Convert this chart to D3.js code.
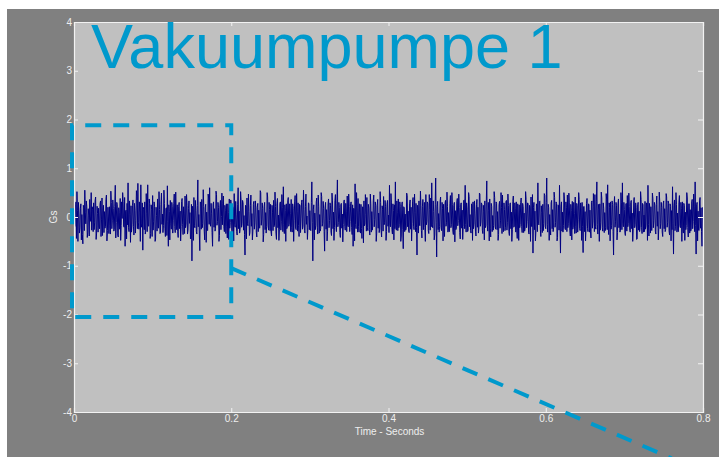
<!DOCTYPE html>
<html>
<head>
<meta charset="utf-8">
<script src="https://cdn.jsdelivr.net/npm/d3@7"></script>
<style>
  html, body { margin: 0; padding: 0; background: #ffffff; }
  svg { display: block; }
  text { font-family: "Liberation Sans", Arial, sans-serif; }
</style>
</head>
<body>
<svg id="chart" width="719" height="457"></svg>
<script>
// Vibration record of vacuum pump 1 (acceleration in Gs), sampled every 0.625 ms
const titleText = "Vakuumpumpe 1";
const xLabel = "Time - Seconds";
const yLabel = "Gs";
const timeStep = 0.000625;
const xTicks = [0, 0.2, 0.4, 0.6, 0.8];
const yTicks = [-4, -3, -2, -1, 0, 1, 2, 3, 4];
const xDomain = [0, 0.8];
const yDomain = [-4, 4];

const gsValues = [
  .12,-.21,-.18,.25,.31,-.44,.52,.14,-.50,.30,.08,-.33,-.22,.18,.27,-.47,.05,-.36,-.55,.24,.19,-.28,.55,.10,-.14,.33,.22,-.42,-.31,.17,.04,-.39,.36,.02,-.09,.50,-.27,.21,.15,-.30,
  .29,-.26,-.12,.34,.41,-.46,-.33,.22,.07,-.31,.18,-.20,-.24,.27,.33,-.40,-.06,.39,-.38,.13,.24,-.32,.11,-.23,-.19,.36,.45,-.49,-.28,.20,.02,-.34,.21,-.18,-.35,.53,.30,-.24,-.08,.35,
  .17,-.29,-.26,.22,.65,-.43,-.11,.30,.26,-.37,-.41,.19,.09,-.25,.38,-.48,-.17,.31,-.03,.50,.32,-.19,-.21,.40,-.60,.12,.14,-.45,.28,-.16,.70,-.22,-.30,.33,.05,-.52,.23,-.31,-.16,.24,
  .35,-.20,-.37,.28,.13,-.33,-.07,.54,.42,-.24,.69,-.12,-.25,.31,.10,-.50,.66,-.21,-.14,.29,-.68,.15,.20,-.26,.31,-.35,-.29,.48,.08,-.30,.66,-.18,-.19,.37,.27,-.44,-.34,.25,.16,-.40,
  .44,-.27,-.10,.31,.22,-.50,-.45,.20,.03,-.29,.37,-.21,-.23,.52,.15,-.34,-.31,.26,.49,-.15,.06,-.32,-.18,.55,.28,-.23,-.40,.17,.19,-.38,.64,-.09,-.60,.25,.11,-.47,.34,-.14,-.25,.30,
  .21,-.33,-.08,.27,.47,-.19,-.32,.51,.02,-.26,.25,-.30,-.42,.22,.30,-.24,.12,-.49,-.20,.32,.38,-.16,-.36,.21,.07,-.34,.43,-.22,-.15,.46,.24,-.35,-.27,.18,.33,-.13,.09,-.45,-.44,.26,
  -.90,.22,.18,-.48,.40,-.18,-.22,.34,.13,-.30,-.35,.24,.76,-.20,.05,-.33,-.69,.31,.29,-.25,.36,-.22,-.13,.56,.21,-.29,-.47,.19,.26,-.52,.10,-.27,-.28,.47,.39,-.15,.60,-.10,-.19,.28,
  .08,-.32,-.60,.26,.31,-.21,.17,-.29,-.24,.53,.46,-.17,-.09,.30,.20,-.50,-.38,.23,.34,-.26,.01,.49,-.16,.28,.43,-.20,-.30,.24,.14,-.34,.27,-.19,-.43,.27,.09,-.46,.37,-.23,-.11,.35,
  .24,-.28,-.33,.21,.16,-.49,.48,-.16,-.21,.32,.06,-.30,-.37,.25,.60,-.24,.12,-.33,-.26,.52,.35,-.21,-.14,.34,.29,-.27,.03,-.36,-.78,.24,.22,-.45,.39,-.14,-.18,.47,.11,-.38,-.32,.23,
  .45,-.19,.07,-.47,-.29,.26,.32,-.25,-.12,.33,.19,-.31,-.41,.20,.28,-.30,.14,-.22,-.23,.54,.50,-.17,-.06,.29,.17,-.51,-.36,.22,.30,-.26,.09,-.33,-.20,.50,.41,-.18,-.27,.30,.15,-.28,
  .26,-.31,-.39,.24,.10,-.28,.34,-.20,-.17,.51,.22,-.33,-.46,.27,.38,-.22,.04,-.48,-.25,.28,.31,-.27,-.10,.46,.20,-.30,.62,-.16,-.34,.25,.13,-.50,.27,-.24,-.21,.33,.40,-.19,-.15,.27,
  .07,-.30,.36,-.22,-.31,.27,.18,-.50,-.08,.31,.44,-.23,-.26,.48,.11,-.29,.29,-.18,-.40,.26,.23,-.32,-.04,.30,.35,-.25,-.19,.55,.16,-.28,-.33,.22,.47,-.15,.02,-.46,-.22,.29,.28,-.26,
  .13,-.27,-.28,.30,.72,-.12,-.90,.15,.25,-.47,.08,-.26,-.17,.31,.39,-.21,-.35,.45,.21,-.33,.05,-.29,-.24,.50,.42,-.19,-.13,.32,.18,-.30,-.70,.20,.30,-.25,.15,-.49,-.29,.27,.37,-.22,
  -.07,.29,.24,-.31,-.38,.49,.33,-.24,.10,-.48,-.21,.34,.46,-.18,-.30,.27,.76,-.20,-.11,.30,.19,-.32,-.42,.25,.28,-.23,.06,-.51,-.16,.31,.35,-.19,-.27,.28,.12,-.30,.43,-.17,-.20,.47,
  .22,-.30,-.09,.28,.31,-.22,-.36,.25,-.60,.18,.17,-.49,.68,-.15,-.24,.50,.14,-.31,.38,-.20,-.31,.27,.09,-.33,.26,-.24,-.44,.21,.20,-.53,.33,-.18,-.14,.46,.05,-.29,.40,-.21,-.28,.26,
  .18,-.26,-.37,.47,.27,-.31,.11,-.27,-.19,.33,.45,-.20,-.05,.31,.23,-.50,-.33,.24,.36,-.23,.08,-.32,-.25,.52,.30,-.28,-.41,.23,.16,-.29,.42,-.16,-.12,.34,.21,-.48,-.30,.26,.34,-.19,
  .04,-.32,.65,-.14,-.20,.48,.29,-.26,-.35,.27,.13,-.47,.25,-.24,.72,-.18,-.27,.33,.10,-.28,.37,-.22,-.16,.31,.22,-.50,-.39,.26,.31,-.25,-.65,.21,.19,-.30,.06,-.27,-.23,.49,.44,-.20,
  .12,-.29,-.32,.27,.35,-.25,.20,-.49,-.14,.31,.40,-.19,-.26,.47,.09,-.30,.28,-.21,-.78,.24,.17,-.33,.33,-.17,-.18,.53,.24,-.28,-.43,.22,.36,-.26,.02,.30,-.21,-.50,.46,-.16,-.09,.31,
  .27,-.28,-.34,.46,.15,-.27,.39,-.20,.70,-.16,-.22,.33,.11,-.47,-.37,.25,.80,-.12,-.82,.21,.32,-.26,.07,-.31,-.19,.32,.41,-.22,-.28,.30,.18,-.49,.26,-.25,-.40,.28,.34,-.19,-.12,.51,
  .21,-.31,.09,-.27,-.30,.28,.44,-.22,-.16,.50,.25,-.29,-.36,.24,.30,-.51,.13,-.26,-.24,.31,.38,-.18,-.07,.47,.19,-.32,-.45,.26,.29,-.23,.14,-.46,-.20,.34,.35,-.24,.65,-.15,-.31,.29,
  .16,-.30,-.27,.50,.42,-.20,.05,-.28,-.33,.27,.23,-.48,.31,-.24,-.15,.33,.08,-.29,-.39,.25,.36,-.21,.20,-.33,-.22,.49,.47,-.19,-.10,.29,.26,-.27,-.34,.24,.12,-.47,.33,-.22,-.18,.30,
  .74,-.18,-.29,.30,.14,-.49,.37,-.24,-.41,.28,.22,-.30,.03,-.27,-.17,.52,.40,-.20,-.25,.31,.28,-.26,.11,-.48,-.36,.25,.32,-.23,-.08,.50,.19,-.34,.45,-.15,-.30,.29,.15,-.28,-.21,.32,
  .34,-.27,-.12,.47,.24,-.30,-.38,.26,.29,-.24,.10,-.50,-.26,.32,.43,-.21,-.19,.29,.17,-.31,.31,-.25,-.44,.27,.06,-.48,.25,-.22,-.15,.30,.39,-.20,-.32,.28,.21,-.32,.08,-.29,-.23,.52,
  .36,-.22,-.09,.29,.27,-.31,-.35,.24,.18,-.50,.41,-.19,-.20,.46,-.74,.20,.30,-.26,.12,-.49,-.28,.27,.22,-.30,.70,-.14,-.16,.32,.33,-.25,-.40,.23,.09,-.32,.26,-.28,-.13,.48,.44,-.20,
  -.24,.30,.80,-.15,-.31,.26,.19,-.48,.05,-.28,-.37,.29,.34,-.24,.15,-.30,-.22,.51,.40,-.21,-.11,.31,.28,-.49,-.42,.25,.23,-.27,.65,-.17,-.74,.22,.31,-.29,.10,-.31,-.18,.50,.37,-.23,
  -.26,.31,.20,-.30,.45,-.22,-.14,.49,.29,-.27,-.39,.26,.13,-.47,.32,-.25,-.21,.30,.07,-.34,.41,-.19,-.33,.28,.24,-.31,-.06,.50,.36,-.24,-.28,.29,.17,-.48,.30,-.20,-.73,.21,.22,-.30,
  .11,-.49,-.19,.28,.38,-.24,-.30,.27,.25,-.31,.14,-.29,-.43,.30,.33,-.23,-.08,.48,.21,-.30,.46,-.20,-.25,.31,.72,-.16,-.35,.26,.16,-.50,.27,-.27,-.12,.51,.39,-.22,-.29,.29,.18,-.32,
  .09,-.28,-.22,.48,.35,-.26,.66,-.18,-.36,.29,.20,-.49,.31,-.25,-.17,.33,.26,-.30,-.78,.24,.42,-.21,-.10,.30,.23,-.47,-.32,.27,.37,-.22,.06,-.31,-.27,.50,.29,-.26,.70,-.13,-.20,.30,
  .15,-.31,-.38,.27,.28,-.29,.44,-.20,-.13,.49,.22,-.28,-.31,.30,.34,-.24,.08,-.50,-.24,.31,.40,-.22,-.16,.29,.19,-.46,-.45,.25,.30,-.27,.12,-.30,-.21,.52,.36,-.21,-.34,.28,.25,-.31,
  .04,-.30,.32,-.25,-.18,.29,.27,-.48,.65,-.16,-.39,.28,.16,-.33,.21,-.27,-.28,.49,.38,-.22,-.07,.30,.24,-.29,-.35,.26,.43,-.19,.11,-.47,-.23,.51,.31,-.24,-.14,.30,.20,-.31,-.40,.27,
  .33,-.24,.17,-.30,-.26,.48,.41,-.21,-.12,.33,.28,-.29,-.37,.27,.22,-.49,.13,-.26,.62,-.14,-.76,.24,.35,-.28,-.19,.50,.26,-.31,.08,-.27,-.30,.29,.44,-.18,-.22,.30,.18,-.50,.31,-.25,
  -.33,.28,.24,-.48,.10,-.26,-.17,.50,.39,-.22,-.41,.27,.27,-.33,.15,-.29,-.25,.31,.36,-.24,-.09,.47,.21,-.30,.72,-.17,-.76,.25,.30,-.49,.12,-.27,-.28,.33,.40,-.23,.19,-.30,-.60,.20
];

// Zoom marker: the first 0.2 s window (time, Gs) and the leader line running out of it
const zoomBox = { t0: -0.0025, t1: 0.2, g0: -2.05, g1: 1.88 };
const leader = [[0.2, -1.05], [0.76, -4.95]];

const W = 719, H = 457;
const frame = { left: 7, top: 9 };
const plot = { left: 74, right: 703, top: 22, bottom: 412 };

const svg = d3.select("#chart");

svg.append("rect")
  .attr("x", frame.left).attr("y", frame.top)
  .attr("width", W - frame.left).attr("height", H - frame.top)
  .attr("fill", "#808080");

svg.append("rect")
  .attr("x", plot.left).attr("y", plot.top)
  .attr("width", plot.right - plot.left).attr("height", plot.bottom - plot.top)
  .attr("fill", "#c0c0c0");

const x = d3.scaleLinear().domain(xDomain).range([plot.left, plot.right]);
const y = d3.scaleLinear().domain(yDomain).range([plot.bottom, plot.top]);

svg.append("defs").append("clipPath").attr("id", "plotClip")
  .append("rect")
  .attr("x", plot.left).attr("y", plot.top)
  .attr("width", plot.right - plot.left).attr("height", plot.bottom - plot.top);

// signal trace
const samples = gsValues.map((v, i) => [i * timeStep, v]);
svg.append("path")
  .datum(samples)
  .attr("clip-path", "url(#plotClip)")
  .attr("fill", "none")
  .attr("stroke", "#000080")
  .attr("stroke-width", 1)
  .attr("d", d3.line().x(d => x(d[0])).y(d => y(d[1])));

// axes: ticks point inward, box closed on top and right
const fmt = d => String(d);
function styleAxis(g) {
  g.select(".domain").attr("stroke", "#f2f2f2").attr("stroke-width", 1.2);
  g.selectAll(".tick line").attr("stroke", "#f2f2f2");
  g.selectAll(".tick text").attr("fill", "#eeeeee")
    .style("font-family", "'Liberation Sans', Arial, sans-serif")
    .style("font-size", "10px");
}

svg.append("g")
  .attr("transform", `translate(0,${plot.top})`)
  .call(d3.axisTop(x).tickValues(xTicks).tickSize(-4).tickFormat(""))
  .call(styleAxis);

svg.append("g")
  .attr("transform", `translate(${plot.right},0)`)
  .call(d3.axisRight(y).tickValues(yTicks).tickSize(-5).tickFormat(""))
  .call(styleAxis);

svg.append("g")
  .attr("transform", `translate(${plot.left},0)`)
  .call(d3.axisLeft(y).tickValues(yTicks).tickSize(-4).tickPadding(2).tickFormat(fmt))
  .call(styleAxis);

svg.append("g")
  .attr("transform", `translate(0,${plot.bottom})`)
  .call(d3.axisBottom(x).tickValues(xTicks).tickSize(-4).tickPadding(3).tickFormat(fmt))
  .call(styleAxis);

svg.append("text")
  .attr("transform", `translate(57,${y(0)}) rotate(-90)`)
  .attr("text-anchor", "middle")
  .attr("fill", "#eeeeee")
  .style("font-size", "10px")
  .text(yLabel);

svg.append("text")
  .attr("x", (plot.left + plot.right) / 2 + 1)
  .attr("y", 435)
  .attr("text-anchor", "middle")
  .attr("fill", "#eeeeee")
  .style("font-size", "10px")
  .text(xLabel);

// dashed zoom marker and leader line
const accent = "#0099cc";
const bx0 = x(zoomBox.t0), bx1 = x(zoomBox.t1), by0 = y(zoomBox.g0), by1 = y(zoomBox.g1);
svg.append("path")
  .attr("d", `M${bx1},${by0} L${bx0},${by0} L${bx0},${by1} L${bx1},${by1} Z`)
  .attr("fill", "none")
  .attr("stroke", accent)
  .attr("stroke-width", 4)
  .attr("stroke-dasharray", "16,12");

svg.append("path")
  .attr("d", d3.line().x(d => x(d[0])).y(d => y(d[1]))(leader))
  .attr("fill", "none")
  .attr("stroke", accent)
  .attr("stroke-width", 4)
  .attr("stroke-dasharray", "16,12");

svg.append("text")
  .attr("x", 91)
  .attr("y", 68)
  .attr("fill", accent)
  .style("font-size", "63px")
  .text(titleText);
</script>
</body>
</html>
